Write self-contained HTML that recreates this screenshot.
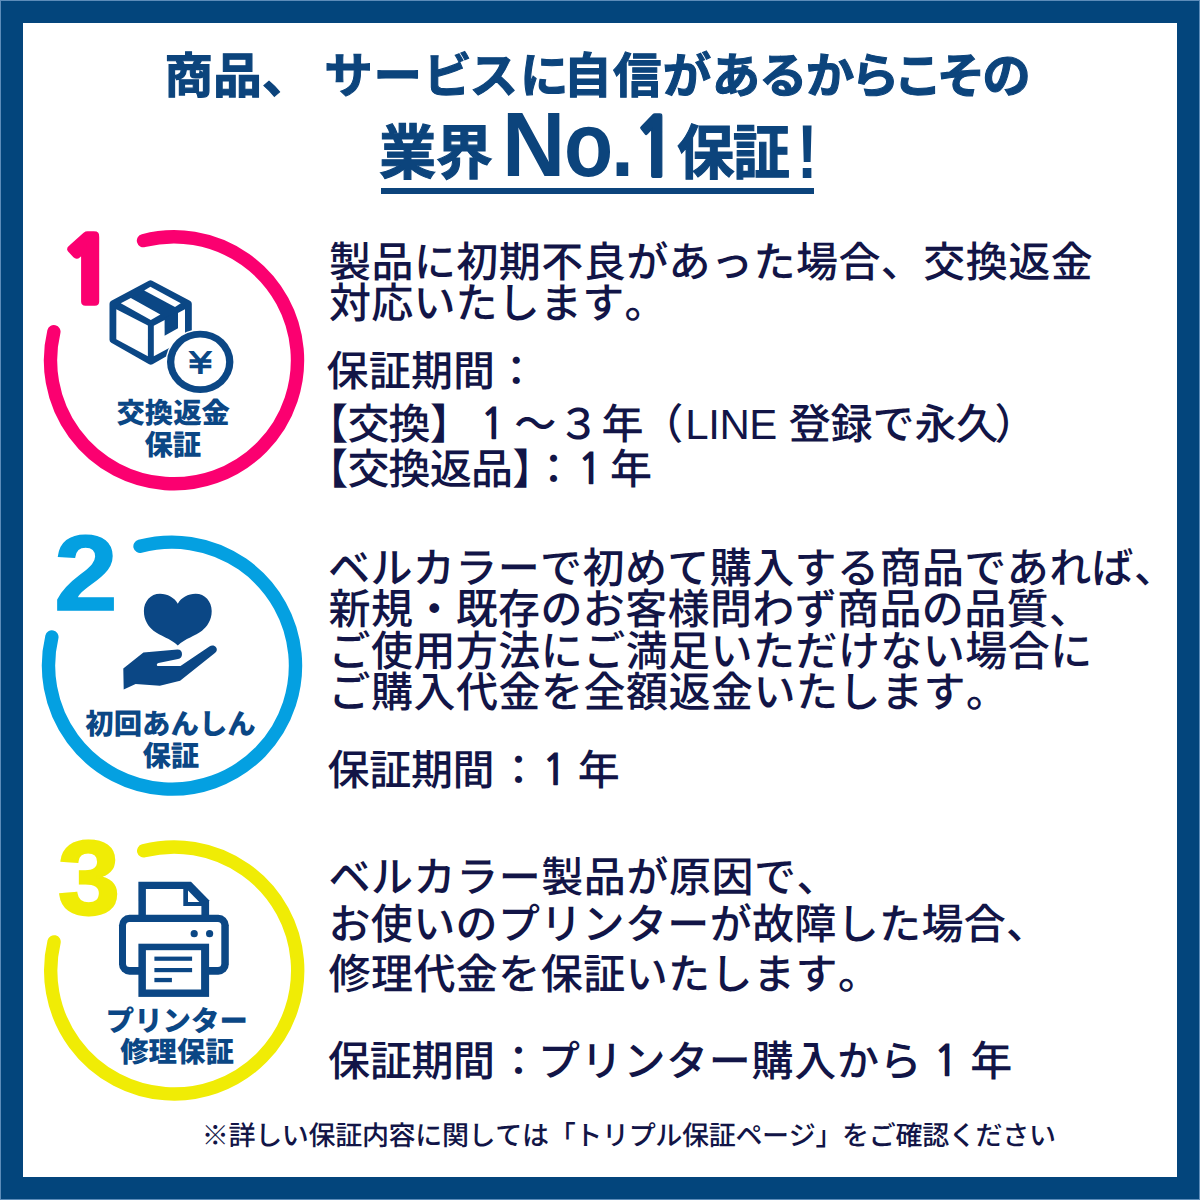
<!DOCTYPE html>
<html lang="ja">
<head>
<meta charset="utf-8">
<title>トリプル保証</title>
<style>
html,body{margin:0;padding:0;}
body{text-rendering:geometricPrecision;width:1200px;height:1200px;overflow:hidden;background:#03457c;position:relative;
  font-family:"Liberation Sans","Noto Sans CJK JP",sans-serif;}
#frame{position:absolute;left:0;top:0;width:1200px;height:1200px;background:#03457c;box-shadow:inset 0 0 0 1px #5d8cb9;}
#paper{position:absolute;left:23px;top:23px;width:1154px;height:1154px;background:#fff;}
.t{position:absolute;white-space:nowrap;line-height:1;transform-origin:0 0;}
.h{color:#0c447c;font-weight:700;-webkit-text-stroke:1.1px #0c447c;}
.b{color:#121547;font-weight:500;font-size:42px;letter-spacing:0.2px;font-kerning:none;}
.one{font-family:"NanumGothic","Noto Sans CJK JP",sans-serif;font-weight:700;font-size:43px;}
.lab{color:#0b4785;font-weight:900;font-size:28.4px;text-align:center;width:200px;}
.en{font-family:"Liberation Sans",sans-serif;-webkit-text-stroke:0;}
.num{font-weight:700;font-family:"Liberation Sans",sans-serif;}
svg{position:absolute;left:0;top:0;}
</style>
</head>
<body>
<div id="frame"></div>
<div id="paper"></div>

<!-- heading -->
<div class="t h" id="h1" style="left:164.5px;top:52.5px;font-size:48.5px;letter-spacing:0.3px;"><span id="h1_s0">商品、 </span><span id="h1_s1" style="position:relative;left:0.01px;font-feature-settings:'palt';letter-spacing:3.1px;">サービスに</span><span id="h1_s2" style="position:relative;left:-6.78px;font-feature-settings:'palt';letter-spacing:1.1px;">自信が</span><span id="h1_s3" style="position:relative;left:-6.74px;font-feature-settings:'palt';letter-spacing:0.5px;">あるからこその</span></div>
<div class="t h" id="h2" style="left:379px;top:96px;font-size:59.5px;"><span id="h2_s0" style="display:inline-block;line-height:1;transform-origin:0 0;position:relative;left:0.30px;top:2.00px;font-size:59.5px;letter-spacing:-0.5px;transform:scaleX(0.962);">業界</span><span id="h2_s1" class="en" style="display:inline-block;line-height:1;transform-origin:0 0;position:relative;left:4.50px;top:3.50px;font-size:91.5px;transform:scaleX(0.957);">N</span><span id="h2_s2" class="en" style="display:inline-block;line-height:1;transform-origin:0 0;position:relative;left:0.91px;top:3.50px;font-size:91.5px;transform:scaleX(0.88);">o</span><span id="h2_s3" class="en" style="display:inline-block;line-height:1;transform-origin:0 0;position:relative;left:-8.00px;top:3.50px;font-size:91.5px;transform:scaleX(0.9);">.</span><span id="h2_s4" style="display:inline-block;line-height:1;transform-origin:0 0;position:relative;left:-11.62px;top:5.00px;-webkit-text-stroke:1.4px #0c447c;font-size:81.5px;font-family:'NanumGothic',sans-serif;font-weight:800;transform:scaleX(0.9);">1</span><span id="h2_s5" style="display:inline-block;line-height:1;transform-origin:0 0;position:relative;left:-17.21px;top:2.00px;font-size:59.5px;letter-spacing:-1.5px;transform:scaleX(0.962);">保証</span><span id="h2_s6" class="en" style="display:inline-block;line-height:1;transform-origin:0 0;position:relative;left:-13.31px;top:6.30px;font-size:76.5px;transform:scaleX(0.8);">!</span></div>
<div id="ul" style="position:absolute;left:381px;top:188.4px;width:433px;height:5.5px;background:#0c447c;"></div>

<!-- graphics -->
<svg width="1200" height="1200" viewBox="0 0 1200 1200">
  <!-- arcs -->
  <g fill="none" stroke-width="13.4" stroke-linecap="round">
    <path id="arc1" stroke="#fb0070" d="M143.50 240.63 A123.5 123.5 0 1 1 53.86 331.68"/>
    <path id="arc2" stroke="#04a0e1" d="M140.04 546.31 A123.5 123.5 0 1 1 51.86 636.98"/>
    <path id="arc3" stroke="#f0ec05" d="M143.70 850.83 A123.5 123.5 0 1 1 54.06 941.88"/>
  </g>

  <!-- icon 1: box + coin -->
  <g id="ico1">
    <path fill="#0b4785" stroke="#0b4785" stroke-width="7" stroke-linejoin="round"
      d="M150.5 283.9 L188.3 303.8 L188.3 339.8 L150.8 361.1 L113 339.7 L113 303.8 Z"/>
    <!-- left face -->
    <path fill="#fff" d="M116.3 309.2 L147.9 325.4 L147.9 356.3 L116.3 339.2 Z"/>
    <!-- right face -->
    <path fill="#fff" d="M153.8 325.8 L185 309.2 L185 339.5 L153.8 356.3 Z"/>
    <!-- top face pieces -->
    <path fill="#fff" d="M120.8 303.3 L130.8 298 L160.4 314.6 L150.8 320 Z"/>
    <path fill="#fff" d="M144.2 290.4 L150.4 286.7 L180.8 303.3 L175 307 Z"/>
    <!-- tape flag -->
    <path fill="#0b4785" d="M164.6 318 L178 311 L178 328.3 L164.6 335.8 Z"/>
    <!-- coin -->
    <ellipse cx="200.2" cy="361.9" rx="34.6" ry="32.6" fill="#fff"/>
    <ellipse cx="200.2" cy="361.9" rx="33.2" ry="31.2" fill="#0b4785"/>
    <ellipse cx="200.2" cy="361.9" rx="25.9" ry="24.4" fill="#fff"/>
  </g>

  <!-- icon 2: heart + hand -->
  <g id="ico2" fill="#0b4785">
    <path d="M177.8 603.8 C174.5 597.5 167.5 593.7 160 593.7 C150.5 593.7 143.9 601.5 143.9 611 C143.9 620.5 148.5 626.5 153.5 630.8 C160 636 170.5 638.5 177.8 645.5 C185.1 638.5 195.5 636 202 630.8 C207 626.5 211.7 620.5 211.7 611 C211.7 601.5 205 593.7 195.6 593.7 C188.1 593.7 181.1 597.5 177.8 603.8 Z"/>
    <path d="M123.7 689.5 L123.3 668.4 L143.4 652.4 L177.5 649.6 C180.5 649.6 182 651.5 182 654.2 C182 657 180.5 658.6 178 658.9 L158.5 662.9 C156.3 663.2 156.3 666.1 158.5 666.1 L180.5 666.1 L209.4 646.6 C211.5 645 214.5 645.2 216 647.3 C217.5 649.4 217 651.6 214.9 653 L180.1 680.8 L159.9 685.8 L135.6 684 Z"/>
  </g>

  <!-- icon 3: printer -->
  <g id="ico3">
    <!-- top paper -->
    <path fill="#0b4785" d="M138.4 881.7 L191 881.7 L209.1 900.3 L209.1 920 L138.4 920 Z"/>
    <path fill="#fff" d="M145.9 889 L183.3 889 L183.3 906 L201.4 906 L201.4 920 L145.9 920 Z"/>
    <path fill="#fff" d="M188 890.5 L188 902.1 L199.3 902.1 Z"/>
    <!-- body -->
    <rect x="119" y="914.8" width="109.8" height="59.9" rx="10.5" ry="10.5" fill="#0b4785"/>
    <rect x="126" y="922" width="95.3" height="45" rx="3.5" ry="3.5" fill="#fff"/>
    <circle cx="194.2" cy="933.7" r="3.6" fill="#0b4785"/>
    <circle cx="209.6" cy="933.7" r="3.6" fill="#0b4785"/>
    <!-- front paper -->
    <rect x="138.4" y="943.7" width="70.7" height="53.2" fill="#0b4785"/>
    <rect x="145.9" y="950.2" width="55.2" height="39.3" fill="#fff"/>
    <rect x="154.4" y="956.6" width="37.7" height="4.2" fill="#0b4785"/>
    <rect x="154.4" y="968" width="37.7" height="4.2" fill="#0b4785"/>
    <rect x="154.4" y="977.9" width="17.5" height="4.3" fill="#0b4785"/>
  </g>
  <text id="n1" x="0" y="0" transform="translate(59.7 303.3) scale(1.05 1)" font-family="NanumGothic, sans-serif" font-weight="800" font-size="89.5" fill="#fb0070" stroke="#fb0070" stroke-width="5" stroke-linejoin="miter" stroke-miterlimit="8">1</text>
</svg>

<!-- yen -->
<div class="t" id="yen" style="left:183.1px;top:348.1px;transform:scaleX(1.12);font-size:31px;font-family:'IPAGothic','Noto Sans CJK JP',sans-serif;color:#0b4785;-webkit-text-stroke:1.3px #0b4785;">￥</div>

<!-- numbers -->
<div class="t num" id="n2" style="left:54.2px;top:520.3px;font-size:107px;color:#04a0e1;-webkit-text-stroke:1.5px #04a0e1;transform:scaleX(1.07);">2</div>
<div class="t num" id="n3" style="left:58.2px;top:826.2px;font-size:105px;color:#f0ec05;-webkit-text-stroke:2.5px #f0ec05;transform:scaleX(1.06);">3</div>

<!-- labels -->
<div class="t lab" id="l1a" style="left:73.2px;top:400.3px;">交換返金</div>
<div class="t lab" id="l1b" style="left:72.8px;top:432.0px;">保証</div>
<div class="t lab" id="l2a" style="left:70.5px;top:711.4px;">初回あんしん</div>
<div class="t lab" id="l2b" style="left:70.8px;top:742.7px;">保証</div>
<div class="t lab" id="l3a" style="left:76.8px;top:1008.4px;">プリンター</div>
<div class="t lab" id="l3b" style="left:77px;top:1038.7px;">修理保証</div>

<!-- body 1 -->
<div class="t b" id="b11" style="left:329px;top:241.8px;letter-spacing:0.45px;">製品に初期不良があった場合、交換返金</div>
<div class="t b" id="b12" style="left:329px;top:282.5px;">対応いたします。</div>
<div class="t b" id="b13" style="left:326.5px;top:350.5px;">保証期間：</div>
<div class="t b" id="b14" style="left:306.2px;top:404.3px;"><span id="b14_s0" style="letter-spacing:-0.8px;">【交換】 </span><span id="b14_s1" class="one" style="position:relative;left:-11.36px;">１</span><span id="b14_s2" style="position:relative;left:-8.18px;letter-spacing:1.4px;">～３ </span><span id="b14_s3" style="position:relative;left:-20.96px;">年</span><span id="b14_s4" style="position:relative;left:-23.36px;">（</span><span id="b14_s5" style="position:relative;left:-21.57px;letter-spacing:-0.4px;">LINE</span><span id="b14_s6" style="position:relative;left:-21.41px;letter-spacing:-0.1px;"> 登録で永久</span><span id="b14_s7" style="position:relative;left:-25.23px;">）</span></div>
<div class="t b" id="b15" style="left:306.2px;top:448.7px;"><span id="b15_s0" style="letter-spacing:-0.8px;">【交換返品】</span><span id="b15_s1" style="position:relative;left:0.21px;">：</span><span id="b15_s2" class="one" style="position:relative;left:-6.89px;">１ </span><span id="b15_s3" style="position:relative;left:-17.57px;">年</span></div>

<!-- body 2 -->
<div class="t b" id="b21" style="left:328px;top:548.3px;letter-spacing:0.42px;">ベルカラーで初めて購入する商品であれば、</div>
<div class="t b" id="b22" style="left:328.5px;top:589.3px;letter-spacing:0.38px;">新規・既存のお客様問わず商品の品質、</div>
<div class="t b" id="b23" style="left:328.5px;top:630.7px;letter-spacing:0.45px;">ご使用方法にご満足いただけない場合に</div>
<div class="t b" id="b24" style="left:328.5px;top:671.5px;letter-spacing:0.5px;">ご購入代金を全額返金いたします。</div>
<div class="t b" id="b25" style="left:327.5px;top:750px;"><span id="b25_s0" style="letter-spacing:-0.3px;">保証期間</span><span id="b25_s1" style="position:relative;left:3.29px;">：</span><span id="b25_s2" class="one" style="position:relative;left:-4.32px;">１ </span><span id="b25_s3" style="position:relative;left:-11.59px;">年</span></div>

<!-- body 3 -->
<div class="t b" id="b31" style="left:328.5px;top:857px;letter-spacing:0.55px;">ベルカラー製品が原因で、</div>
<div class="t b" id="b32" style="left:328.5px;top:904.0px;letter-spacing:0.35px;">お使いのプリンターが故障した場合、</div>
<div class="t b" id="b33" style="left:328.5px;top:954px;letter-spacing:0.45px;">修理代金を保証いたします。</div>
<div class="t b" id="b34" style="left:328px;top:1040.5px;"><span id="b34_s0" style="letter-spacing:-0.3px;">保証期間</span><span id="b34_s1" style="position:relative;left:2.79px;">：</span><span id="b34_s2" style="position:relative;left:0.98px;letter-spacing:0.7px;">プリンター購入から </span><span id="b34_s3" class="one" style="position:relative;left:-9.99px;">１ </span><span id="b34_s4" style="position:relative;left:-16.26px;">年</span></div>

<!-- footer -->
<div class="t" id="foot" style="font-kerning:none;left:201.8px;top:1122.8px;font-size:27px;letter-spacing:-0.32px;color:#121547;font-weight:500;">※詳しい保証内容に関しては「トリプル保証ページ」をご確認ください</div>
</body>
</html>
